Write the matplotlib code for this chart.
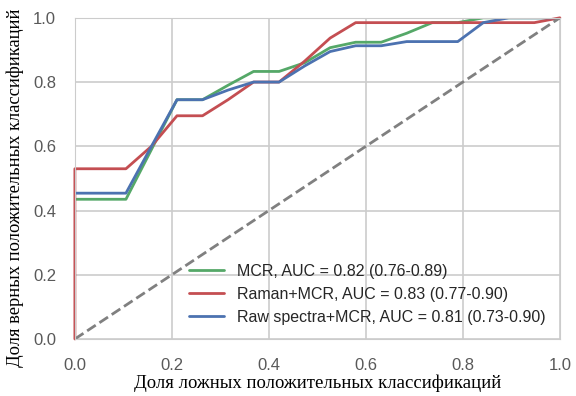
import numpy as np
import matplotlib
matplotlib.use("Agg")
import matplotlib.pyplot as plt
import seaborn as sns

sns.set_style("whitegrid")
plt.rcParams['font.family'] = ['Liberation Sans', 'DejaVu Sans']

# FPR grid (k/19) and mean TPR of each model
fpr = [k / 19 for k in range(20)]
tpr_mcr = [0.435, 0.435, 0.435, 0.59, 0.745, 0.745, 0.79, 0.833, 0.833, 0.86,
           0.907, 0.924, 0.924, 0.952, 0.985, 0.985, 1.0, 1.0, 1.0, 1.0]
tpr_raman = [0.53, 0.53, 0.53, 0.60, 0.695, 0.695, 0.745, 0.80, 0.80, 0.865,
             0.937, 0.985, 0.985, 0.985, 0.985, 0.985, 0.985, 0.985, 0.985, 1.0]
tpr_raw = [0.454, 0.454, 0.454, 0.60, 0.745, 0.745, 0.775, 0.80, 0.80, 0.85,
           0.895, 0.913, 0.913, 0.926, 0.926, 0.926, 0.985, 1.0, 1.0, 1.0]

labels = ["MCR, AUC = 0.82 (0.76-0.89)",
          "Raman+MCR, AUC = 0.83 (0.77-0.90)",
          "Raw spectra+MCR, AUC = 0.81 (0.73-0.90)"]
colors = ["#55A868", "#C44E52", "#4C72B0"]

fig = plt.figure(figsize=(5.76, 3.96), dpi=100)
ax = fig.add_axes([0.130, 0.144, 0.842, 0.811])

ax.plot(fpr, tpr_mcr, color=colors[0], lw=2, label=labels[0])
ax.plot([0] + fpr, [0] + tpr_raman, color=colors[1], lw=2, label=labels[1],
        clip_on=False)
ax.plot(fpr, tpr_raw, color=colors[2], lw=2, label=labels[2])
ax.plot([0, 1], [0, 1], linestyle='--', color='gray', lw=2)

ax.set_xlim(0, 1)
ax.set_ylim(0, 1)
ax.set_xticks(np.arange(0, 1.01, 0.2))
ax.set_yticks(np.arange(0, 1.01, 0.2))
ax.tick_params(labelsize=12, colors='0.35', pad=10)
for s in ax.spines.values():
    s.set_color('0.8')
ax.grid(True, color='0.8', lw=1.2)

ax.set_xlabel("Доля ложных положительных классификаций",
              family='Liberation Serif', fontsize=13.5, color='black', labelpad=1)
ax.set_ylabel("Доля верных положительных классификаций",
              family='Liberation Serif', fontsize=13.3, color='black')
ax.yaxis.set_label_coords(-0.105, 0.47)

ax.legend(loc='lower right', frameon=False, fontsize=11.5,
          bbox_to_anchor=(1.0, 0.0), borderaxespad=0.5, labelspacing=0.5,
          handlelength=2.2, handletextpad=0.8)

fig.savefig("out.png", dpi=100)
